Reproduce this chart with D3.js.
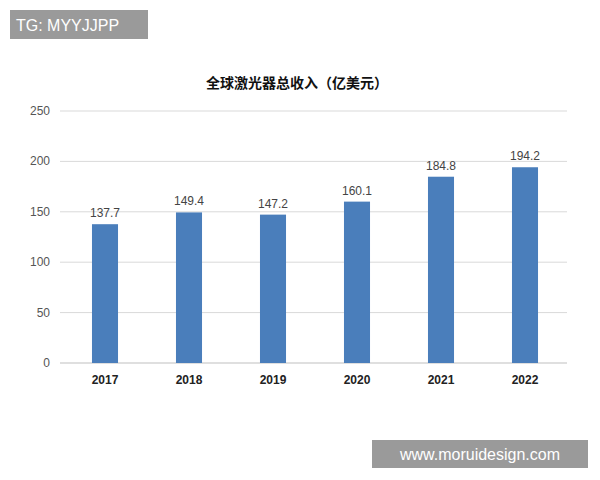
<!DOCTYPE html>
<html><head><meta charset="utf-8">
<script src="https://cdn.jsdelivr.net/npm/d3@7"></script>
<style>body{margin:0;background:#fff}</style></head>
<body><svg id="c" width="600" height="480"></svg>
<script>
const years = ["2017","2018","2019","2020","2021","2022"];
const revenue = [137.7,149.4,147.2,160.1,184.8,194.2];
const yTicks = [0,50,100,150,200,250];
const title = "全球激光器总收入（亿美元）";

const svg = d3.select("#c");
const x = d3.scaleBand().domain(years).range([63,567]).paddingInner(0.69).paddingOuter(0.345);
const y = d3.scaleLinear().domain([0,250]).range([363,111]);

svg.append("g").selectAll("line").data(yTicks).join("line")
  .attr("x1",60).attr("x2",567).attr("y1",d=>y(d)).attr("y2",d=>y(d))
  .attr("stroke",d=>d===0?"#bfbfbf":"#d9d9d9").attr("stroke-width",1);
svg.append("g").selectAll("text").data(yTicks).join("text")
  .attr("x",50).attr("y",d=>y(d)+4).attr("text-anchor","end")
  .attr("font-family","Liberation Sans, Arial").attr("font-size",12).attr("fill","#555").text(d=>d);

svg.append("g").selectAll("rect").data(revenue).join("rect")
  .attr("x",(d,i)=>x(years[i])).attr("width",x.bandwidth())
  .attr("y",d=>y(d)).attr("height",d=>y(0)-y(d)).attr("fill","#4a7ebb");
svg.append("g").selectAll("text").data(revenue).join("text")
  .attr("x",(d,i)=>x(years[i])+x.bandwidth()/2).attr("y",d=>y(d)-7).attr("text-anchor","middle")
  .attr("font-family","Liberation Sans, Arial").attr("font-size",12).attr("fill","#444").text(d=>d.toFixed(1));
svg.append("g").selectAll("text").data(years).join("text")
  .attr("x",d=>x(d)+x.bandwidth()/2).attr("y",384).attr("text-anchor","middle")
  .attr("font-family","Liberation Sans, Arial").attr("font-weight","bold").attr("font-size",12).attr("fill","#222").text(d=>d);

svg.append("text").attr("x",297).attr("y",88).attr("text-anchor","middle")
  .attr("font-family","Noto Sans CJK SC").attr("font-weight","bold").attr("font-size",14).attr("fill","#111").text(title);

svg.append("rect").attr("x",10).attr("y",10).attr("width",138).attr("height",29).attr("fill","#9a9a9a");
svg.append("text").attr("x",16).attr("y",31).attr("font-family","Liberation Sans, Arial").attr("font-size",16).attr("fill","#fff").text("TG: MYYJJPP");
svg.append("rect").attr("x",372).attr("y",440).attr("width",216).attr("height",28).attr("fill","#9a9a9a");
svg.append("text").attr("x",480).attr("y",460).attr("text-anchor","middle").attr("font-family","Liberation Sans, Arial").attr("font-size",16).attr("fill","#fff").text("www.moruidesign.com");
</script></body></html>
